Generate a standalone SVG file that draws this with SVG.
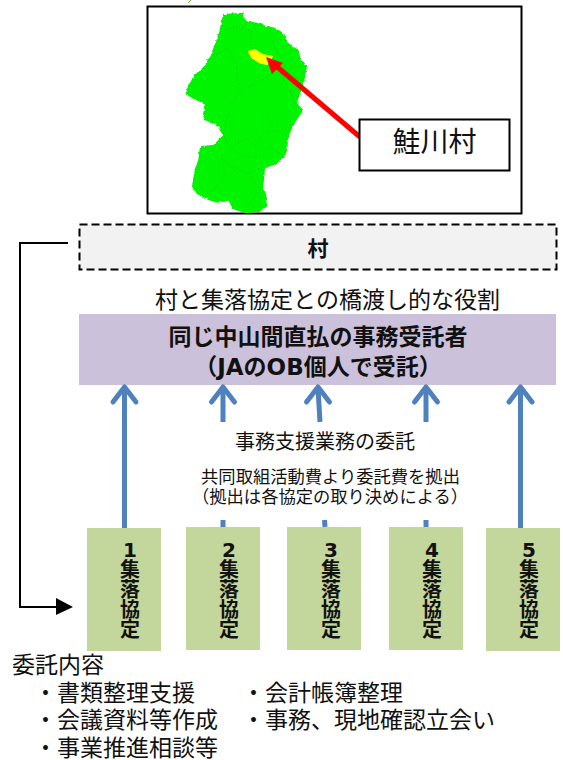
<svg xmlns="http://www.w3.org/2000/svg" width="563" height="760" viewBox="0 0 563 760">
<defs>
<filter id="rough" x="-5%" y="-5%" width="110%" height="110%">
<feTurbulence type="fractalNoise" baseFrequency="0.22" numOctaves="2" seed="4" result="t"/>
<feDisplacementMap in="SourceGraphic" in2="t" scale="3.500" xChannelSelector="R" yChannelSelector="G"/>
<feGaussianBlur stdDeviation="0.350"/>
</filter>
<filter id="soft" x="-20%" y="-20%" width="140%" height="140%"><feGaussianBlur stdDeviation="0.500"/></filter>
</defs>
<style>
text{font-family:"DejaVu Sans","Noto Sans CJK JP",sans-serif;fill:#111}
.m{text-anchor:middle}
.b{font-weight:700}
.l{font-size:23px}
.n{fill:#c3d69b}
.v{font-size:20px;font-weight:700;text-anchor:middle}
.d{fill:none;stroke:#00b400;stroke-width:3;stroke-dasharray:3 7;opacity:.85}
.u{fill:none;stroke:#4f81bd;stroke-width:5;stroke-linecap:round;stroke-linejoin:round}
.s{fill:none;stroke:#4f81bd;stroke-width:5}
</style>
<path d="M191 0 L188 3" fill="none" stroke="#6fae3a" stroke-width="1"/>
<g id="map">
<rect x="147.500" y="6.500" width="374" height="207" fill="#fff" stroke="#000" stroke-width="2"/>
<path filter="url(#rough)" fill="#00f400" d="M223 14L243.300 12.700L245 19.700L256.700 23L275 28L285 34.700L288.300 43L298.300 49.700L301.700 61.300L307.300 64.700L304 83L299.300 95.300L298.300 104.700L303.300 110L293.300 125L288.300 136.700L287.300 151.700L278.300 163.300L265 168.300L263.300 186.700L267.300 205L260 211.700L246.700 213L233.300 210L228.300 200L216.700 202.700L203.300 198.300L191.700 188.300L195 168.300L198.300 160L200 146L213.300 145L223.300 135L218.300 126.700L205 120L202.700 115L205 104.700L185 94L193.300 76.300L204 66.300L210.700 54.700L216.700 39.700L220 28Z"/>
<g transform="translate(180 8) scale(.3333)">
<path class="d" d="M110 140L145 120L170 170L170 225L200 240L260 210L290 180M130 70L170 55L215 70L210 110M280 100L290 130M145 285L200 240M300 190L330 250L345 290"/>
</g>
<g transform="translate(180 110) scale(.3333)">
<path class="d" d="M165 100L200 85L225 105L230 140L190 140L155 115ZM125 135L135 200L90 250M135 155L175 180L205 190L240 175M205 190L240 240L200 290M140 20L130 75L155 115M225 105L250 70L300 60L335 50M270 110L310 135M260 20L280 50"/>
</g>
<path filter="url(#soft)" fill="#ffff00" stroke="#ffff00" d="M248.300 51.300L255 49.700L263.300 54.700L272.700 56.300L267.300 64.700L260 63L251.700 58Z"/>
<path d="M360 137L275 65" fill="none" stroke="#ff0000" stroke-width="5"/>
<path d="M266 57L283 63L272 74Z" fill="#ff0000"/>
</g>
<g id="label-sakegawa">
<rect x="359.500" y="119.500" width="150" height="51" fill="#fff" stroke="#000" stroke-width="2"/>
<text class="m" x="434.500" y="152" font-size="28">鮭川村</text>
</g>
<g id="village">
<rect x="79.500" y="224.500" width="477" height="45" fill="#f2f2f2" stroke="#000" stroke-width="2" stroke-dasharray="8 4"/>
<text class="m b" x="318" y="256" font-size="21">村</text>
</g>
<text class="m" x="327.500" y="308" font-size="23">村と集落協定との橋渡し的な役割</text>
<g id="contractor">
<rect x="79" y="314" width="477" height="71" fill="#ccc1da"/>
<text class="m b" x="318" y="345" font-size="23">同じ中山間直払の事務受託者</text>
<text class="m b" x="318" y="375" font-size="23">（JAのOB個人で受託）</text>
</g>
<g id="connectors">
<path d="M68 243H20V607H58" fill="none" stroke="#000" stroke-width="2"/>
<path d="M56 598L73 607L56 615Z" fill="#000"/>
<path class="s" d="M124.500 530V388"/><path class="u" d="M113 402L124.500 387L136 402"/>
<path class="s" d="M223 422V388M223 520V527"/><path class="u" d="M211.500 402L223 387L234.500 402"/>
<path class="s" d="M320 422L318 388M324.500 520L325 527"/><path class="u" d="M306.500 402L318 387L329.500 402"/>
<path class="s" d="M426 422V388M426 520V527"/><path class="u" d="M414.500 402L426 387L437.500 402"/>
<path class="s" d="M520.500 528V388"/><path class="u" d="M509 402L520.500 387L532 402"/>
</g>
<text class="m" x="325" y="449" font-size="20">事務支援業務の委託</text>
<text class="m" x="330.500" y="483" font-size="17.300">共同取組活動費より委託費を拠出</text>
<text class="m" x="330" y="503" font-size="17.300">（拠出は各協定の取り決めによる）</text>
<g id="agreement-1"><rect class="n" x="87" y="528" width="74" height="123"/>
<text class="v" x="130" y="557">1</text><text class="v" x="130" y="577">集</text><text class="v" x="130" y="597">落</text><text class="v" x="130" y="617">協</text><text class="v" x="130" y="637">定</text></g>
<g id="agreement-2"><rect class="n" x="186" y="527" width="74" height="123"/>
<text class="v" x="229" y="557">2</text><text class="v" x="229" y="577">集</text><text class="v" x="229" y="597">落</text><text class="v" x="229" y="617">協</text><text class="v" x="229" y="637">定</text></g>
<g id="agreement-3"><rect class="n" x="287" y="527" width="74" height="123"/>
<text class="v" x="331" y="557">3</text><text class="v" x="331" y="577">集</text><text class="v" x="331" y="597">落</text><text class="v" x="331" y="617">協</text><text class="v" x="331" y="637">定</text></g>
<g id="agreement-4"><rect class="n" x="389" y="527" width="74" height="123"/>
<text class="v" x="432" y="557">4</text><text class="v" x="432" y="577">集</text><text class="v" x="432" y="597">落</text><text class="v" x="432" y="617">協</text><text class="v" x="432" y="637">定</text></g>
<g id="agreement-5"><rect class="n" x="486" y="528" width="74" height="123"/>
<text class="v" x="529" y="557">5</text><text class="v" x="529" y="577">集</text><text class="v" x="529" y="597">落</text><text class="v" x="529" y="617">協</text><text class="v" x="529" y="637">定</text></g>
<g id="contents">
<text class="l" x="12" y="673">委託内容</text>
<text class="l" x="34" y="701">・書類整理支援</text>
<text class="l" x="34" y="728">・会議資料等作成</text>
<text class="l" x="34" y="756">・事業推進相談等</text>
<text class="l" x="242" y="701">・会計帳簿整理</text>
<text class="l" x="242" y="728">・事務、現地確認立会い</text>
</g>
</svg>
